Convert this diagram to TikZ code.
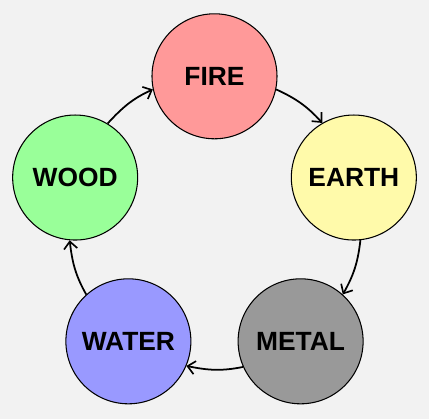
\documentclass[tikz,border=0pt]{standalone}
\usepackage{fontspec}
\setmainfont{Liberation Sans}
\usetikzlibrary{arrows.meta}

\definecolor{bgcol}{HTML}{F2F2F2}
\definecolor{firecol}{HTML}{FF9999}
\definecolor{earthcol}{HTML}{FFFAAA}
\definecolor{metalcol}{HTML}{999999}
\definecolor{watercol}{HTML}{9999FF}
\definecolor{woodcol}{HTML}{99FF99}

\begin{document}
\begin{tikzpicture}[
    element/.style={circle,draw,line width=0.9pt,inner sep=0pt,minimum size=3.75cm,
      font=\fontsize{22.5}{25}\selectfont\bfseries},
    cycle/.style={line width=1.5pt,-{Straight Barb[length=2.2mm,width=4mm,line width=1.4pt]}}
    ]

    \path[fill=bgcol,use as bounding box] (-6.435,-5.886) rectangle (6.435,6.684);

    \foreach \name/\ang/\col/\txt in {fire/90/firecol/FIRE,earth/18/earthcol/EARTH,
        metal/-54/metalcol/METAL,water/-126/watercol/WATER,wood/162/woodcol/WOOD}
      \node (\name) [element,fill=\col] at (\ang:4.395) {\txt};

    % arrows follow the big circle through the five centres
    \foreach \a/\b/\ang in {fire/earth/90,earth/metal/18,metal/water/-54,water/wood/-126,wood/fire/162} {
      \pgfmathsetmacro\sa{\ang-102.3}
      \pgfmathsetmacro\so{\ang-114.6}
      \pgfmathsetmacro\ea{\ang-72+102.3}
      \pgfmathsetmacro\ei{\ang-72+114.6}
      \draw[cycle] (\a.\sa) to[out=\so,in=\ei] (\b.\ea);
    }

\end{tikzpicture}
\end{document}
